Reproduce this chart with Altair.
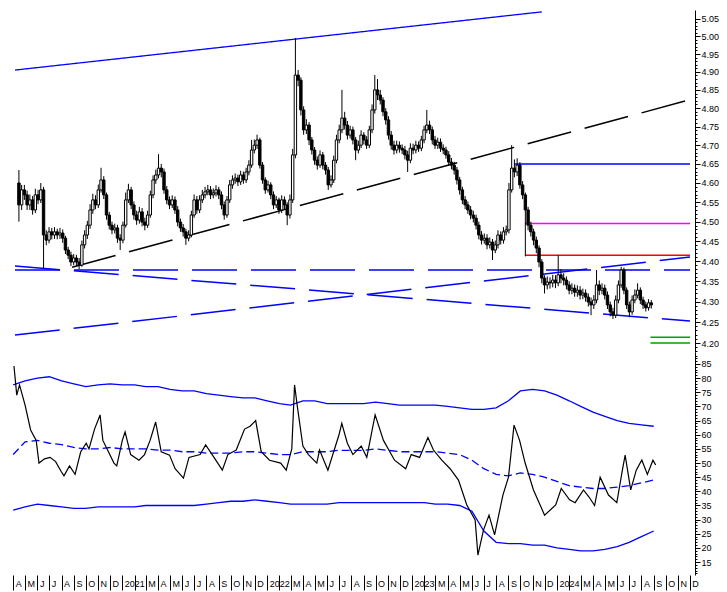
import altair as alt
import pandas as pd

# ---------------- data (weekly candles) ----------------
start_week = "2020-04-03"
first_open = 4.600
closes = [4.543, 4.582, 4.569, 4.543, 4.556, 4.530, 4.569, 4.556, 4.582, 4.466,
 4.453, 4.474, 4.466, 4.474, 4.466, 4.471, 4.458, 4.428, 4.415, 4.398,
 4.408, 4.398, 4.390, 4.441, 4.466, 4.491, 4.530, 4.556, 4.543, 4.582,
 4.608, 4.569, 4.517, 4.491, 4.479, 4.484, 4.458, 4.453, 4.491, 4.556,
 4.582, 4.543, 4.517, 4.504, 4.525, 4.499, 4.491, 4.517, 4.569, 4.608,
 4.621, 4.639, 4.629, 4.582, 4.556, 4.543, 4.556, 4.530, 4.499, 4.484,
 4.474, 4.458, 4.466, 4.517, 4.556, 4.530, 4.556, 4.569, 4.577, 4.582,
 4.569, 4.574, 4.582, 4.569, 4.543, 4.517, 4.556, 4.595, 4.608, 4.613,
 4.603, 4.621, 4.608, 4.629, 4.647, 4.687, 4.700, 4.714, 4.647, 4.608,
 4.582, 4.595, 4.569, 4.543, 4.556, 4.530, 4.556, 4.543, 4.517, 4.556,
 4.674, 4.891, 4.877, 4.795, 4.741, 4.754, 4.714, 4.687, 4.660, 4.647,
 4.674, 4.647, 4.634, 4.595, 4.608, 4.660, 4.714, 4.741, 4.773, 4.754,
 4.727, 4.741, 4.714, 4.687, 4.700, 4.727, 4.714, 4.700, 4.741, 4.795,
 4.850, 4.836, 4.822, 4.790, 4.768, 4.727, 4.700, 4.687, 4.700, 4.692,
 4.687, 4.674, 4.660, 4.692, 4.687, 4.700, 4.692, 4.714, 4.741, 4.754,
 4.741, 4.714, 4.700, 4.708, 4.692, 4.687, 4.674, 4.655, 4.647, 4.634,
 4.608, 4.582, 4.556, 4.543, 4.530, 4.517, 4.509, 4.491, 4.466, 4.453,
 4.458, 4.441, 4.448, 4.428, 4.441, 4.466, 4.453, 4.474, 4.479, 4.582,
 4.639, 4.629, 4.647, 4.595, 4.569, 4.530, 4.491, 4.474, 4.453, 4.433,
 4.398, 4.358, 4.341, 4.348, 4.346, 4.353, 4.346, 4.366, 4.358, 4.353,
 4.341, 4.328, 4.333, 4.323, 4.328, 4.316, 4.321, 4.311, 4.299, 4.292,
 4.304, 4.341, 4.328, 4.333, 4.316, 4.292, 4.275, 4.267, 4.304, 4.341,
 4.378, 4.328, 4.292, 4.275, 4.304, 4.316, 4.328, 4.304, 4.292, 4.285,
 4.297, 4.292]
highs = [4.634, 4.595, 4.595, 4.580, 4.570, 4.566, 4.585, 4.582, 4.600, 4.590,
 4.478, 4.486, 4.484, 4.486, 4.482, 4.484, 4.480, 4.464, 4.436, 4.424,
 4.418, 4.416, 4.408, 4.452, 4.478, 4.502, 4.545, 4.572, 4.568, 4.596,
 4.640, 4.618, 4.575, 4.525, 4.500, 4.495, 4.492, 4.468, 4.500, 4.575,
 4.598, 4.590, 4.552, 4.528, 4.538, 4.535, 4.510, 4.528, 4.580, 4.620,
 4.635, 4.676, 4.650, 4.638, 4.592, 4.565, 4.568, 4.565, 4.540, 4.508,
 4.494, 4.482, 4.478, 4.528, 4.570, 4.566, 4.568, 4.582, 4.590, 4.595,
 4.592, 4.586, 4.594, 4.590, 4.578, 4.552, 4.566, 4.608, 4.620, 4.625,
 4.622, 4.632, 4.630, 4.640, 4.660, 4.714, 4.715, 4.728, 4.720, 4.655,
 4.615, 4.606, 4.602, 4.578, 4.566, 4.562, 4.568, 4.565, 4.550, 4.570,
 4.690, 4.995, 4.905, 4.885, 4.805, 4.770, 4.762, 4.722, 4.695, 4.670,
 4.686, 4.682, 4.655, 4.642, 4.620, 4.672, 4.728, 4.755, 4.850, 4.790,
 4.765, 4.752, 4.750, 4.722, 4.712, 4.740, 4.735, 4.724, 4.752, 4.810,
 4.891, 4.880, 4.850, 4.830, 4.800, 4.778, 4.738, 4.712, 4.712, 4.710,
 4.702, 4.698, 4.685, 4.705, 4.704, 4.712, 4.710, 4.725, 4.752, 4.795,
 4.766, 4.750, 4.725, 4.720, 4.718, 4.702, 4.696, 4.684, 4.666, 4.656,
 4.642, 4.616, 4.590, 4.566, 4.552, 4.540, 4.528, 4.518, 4.500, 4.476,
 4.470, 4.468, 4.460, 4.456, 4.452, 4.478, 4.475, 4.486, 4.490, 4.600,
 4.700, 4.662, 4.665, 4.655, 4.605, 4.575, 4.538, 4.500, 4.482, 4.462,
 4.440, 4.405, 4.365, 4.362, 4.360, 4.366, 4.365, 4.415, 4.380, 4.370,
 4.362, 4.350, 4.345, 4.342, 4.340, 4.338, 4.332, 4.330, 4.320, 4.310,
 4.316, 4.378, 4.352, 4.345, 4.342, 4.325, 4.300, 4.285, 4.315, 4.352,
 4.386, 4.384, 4.335, 4.300, 4.315, 4.330, 4.345, 4.335, 4.312, 4.300,
 4.306, 4.304]
lows = [4.500, 4.530, 4.556, 4.530, 4.530, 4.518, 4.522, 4.545, 4.548, 4.380,
 4.440, 4.445, 4.455, 4.456, 4.455, 4.456, 4.446, 4.418, 4.405, 4.388,
 4.390, 4.388, 4.380, 4.386, 4.432, 4.456, 4.482, 4.520, 4.532, 4.535,
 4.575, 4.558, 4.505, 4.480, 4.468, 4.470, 4.446, 4.428, 4.445, 4.485,
 4.548, 4.532, 4.505, 4.492, 4.495, 4.488, 4.478, 4.484, 4.510, 4.560,
 4.598, 4.612, 4.615, 4.572, 4.545, 4.532, 4.535, 4.520, 4.488, 4.474,
 4.462, 4.441, 4.450, 4.460, 4.510, 4.520, 4.522, 4.548, 4.560, 4.568,
 4.558, 4.560, 4.565, 4.558, 4.532, 4.505, 4.510, 4.548, 4.585, 4.598,
 4.592, 4.595, 4.598, 4.600, 4.620, 4.640, 4.678, 4.690, 4.638, 4.598,
 4.572, 4.575, 4.558, 4.532, 4.535, 4.520, 4.522, 4.532, 4.491, 4.508,
 4.548, 4.665, 4.860, 4.780, 4.728, 4.730, 4.700, 4.675, 4.648, 4.635,
 4.640, 4.636, 4.622, 4.582, 4.588, 4.600, 4.652, 4.705, 4.732, 4.742,
 4.715, 4.718, 4.702, 4.660, 4.678, 4.692, 4.702, 4.690, 4.692, 4.732,
 4.785, 4.822, 4.810, 4.778, 4.755, 4.715, 4.688, 4.675, 4.678, 4.680,
 4.676, 4.662, 4.629, 4.652, 4.676, 4.678, 4.682, 4.684, 4.705, 4.732,
 4.730, 4.702, 4.690, 4.690, 4.682, 4.676, 4.664, 4.645, 4.636, 4.622,
 4.596, 4.570, 4.545, 4.532, 4.520, 4.506, 4.498, 4.480, 4.455, 4.442,
 4.444, 4.430, 4.432, 4.403, 4.420, 4.432, 4.442, 4.444, 4.465, 4.470,
 4.575, 4.615, 4.618, 4.585, 4.558, 4.412, 4.478, 4.462, 4.440, 4.420,
 4.385, 4.345, 4.320, 4.330, 4.332, 4.335, 4.333, 4.338, 4.345, 4.340,
 4.330, 4.318, 4.318, 4.312, 4.312, 4.305, 4.306, 4.300, 4.288, 4.267,
 4.282, 4.296, 4.316, 4.318, 4.305, 4.282, 4.264, 4.258, 4.260, 4.296,
 4.334, 4.318, 4.282, 4.262, 4.268, 4.296, 4.308, 4.294, 4.282, 4.276,
 4.278, 4.283]

# RSI line (week index, value)
rsi_week = [0, 1, 2, 4, 6, 8, 9, 11, 13, 15, 17, 18, 20, 22, 24, 26, 27, 29, 31, 32,
 34, 36, 37, 39, 40, 42, 45, 47, 49, 51, 53, 56, 58, 61, 63, 67, 69, 72, 75, 77,
 80, 83, 85, 87, 89, 92, 96, 98, 100, 101, 102, 104, 106, 109, 110, 113, 117, 118, 120, 122,
 125, 127, 130, 133, 137, 141, 143, 146, 149, 151, 154, 157, 160, 163, 166, 167, 169, 171, 173, 176,
 178, 180, 182, 184, 187, 191, 195, 197, 200, 202, 205, 207, 209, 211, 214, 217, 219, 220, 222, 224,
 226, 228, 230, 231]
rsi_value = [84.3, 74, 77.6, 70.5, 61.7, 58, 50, 51.5, 52, 50.5, 47, 45.5, 49, 46, 53.9, 57, 55, 62, 67, 58,
 54, 50, 49, 58, 61, 53, 51, 53, 58, 64.5, 54, 52.8, 48, 44.7, 52, 53, 56.4, 52, 47.5, 53,
 54.6, 62, 63, 65, 54, 51, 50, 47.5, 55, 77.6, 70, 56, 53, 50, 54.6, 47.5, 60, 64, 57, 53,
 56, 52, 67, 58, 51, 48, 53, 52, 59, 54.6, 51, 48, 44, 35.2, 29.9, 17.5, 26.3, 31.6, 24.6, 38.7,
 45, 63.4, 58, 50, 40.5, 31.6, 35.2, 41, 37, 36, 40.5, 38, 35, 45, 38.7, 36, 47.5, 52.8, 40.5, 47.5,
 51.1, 46, 51, 49.3]

# RSI bands, one value per month starting April 2020
band_start = "2020-04-01"
band_upper = [77.6, 79, 80, 80.5, 79, 78, 77, 77.6, 78, 77.6, 77.6, 77, 77, 76, 75.5, 75.5, 74.5, 74, 73.5, 73,
 73, 72, 71, 70.5, 72, 72, 71, 71, 71, 71, 71.5, 71, 70.5, 70.5, 70.5, 70.5, 70, 69.5, 69, 69,
 69.5, 72, 75.5, 76, 75.5, 74, 72, 70, 68, 66.5, 65, 64, 63.5, 63]
band_mid = [53, 57.5, 58, 57, 56.5, 55.5, 55, 55, 55.5, 55, 55, 55, 54.6, 54.6, 54, 54, 53.5, 53.5, 53.5, 54,
 54, 53.5, 53, 53, 54, 54, 54, 54.5, 54.5, 54.5, 55, 54.5, 54, 54, 54, 54, 53.5, 53, 51, 48,
 46, 45.5, 46.5, 46, 45, 43.5, 42, 41.5, 41, 41, 41.5, 42, 43, 44]
band_lower = [33.4, 34.5, 35.5, 35, 34.5, 34, 34, 34.5, 34.5, 34.5, 34.5, 35, 35, 35, 35, 35, 35.5, 36, 36.5, 36.5,
 37, 36.5, 36, 35.5, 35.5, 35.5, 35.5, 36, 36, 36, 36, 36, 36, 36, 36, 35.5, 35.5, 35, 33, 26,
 22, 21.5, 21.5, 21, 21, 20, 19.5, 19, 19, 19.5, 20.5, 22, 24, 26]

# Trendlines (start date, start price, end date, end price)
trend_x1 = ["2020-03-24", "2020-08-17", "2020-03-24", "2020-03-24", "2020-03-24"]
trend_y1 = [4.905, 4.385, 4.378, 4.388, 4.219]
trend_x2 = ["2023-12-01", "2024-12-14", "2024-12-14", "2024-12-14", "2024-12-14"]
trend_y2 = [5.070, 4.823, 4.378, 4.2526, 4.4102]
trend_style = ["blue_solid", "black_dash", "blue_dash", "blue_dash", "blue_dash"]

# Horizontal levels
level_value = [4.650, 4.495, 4.415, 4.214, 4.200]
level_start = ["2023-09-22", "2023-10-19", "2023-10-19", "2024-09-04", "2024-09-04"]
level_end = ["2024-12-14"] * 5
level_color = ["#0000ff", "#ff00ff", "#ff0000", "#00a000", "#00a000"]

price_ticks = [round(4.18 + 0.01 * k, 2) for k in range(88)]
rsi_ticks = list(range(11, 89))

# ---------------- tables ----------------
n = len(closes)
dates = pd.date_range(start_week, periods=n, freq="7D")
candles = pd.DataFrame({
    "date": dates,
    "open": [first_open] + closes[:-1],
    "close": closes,
    "high": highs,
    "low": lows,
})
candles["up"] = candles["close"] >= candles["open"]

rsi_df = pd.DataFrame({
    "date": [pd.Timestamp(start_week) + pd.Timedelta(days=7 * w) for w in rsi_week],
    "rsi": rsi_value,
})
band_dates = pd.date_range(band_start, periods=len(band_upper), freq="MS")
bands = pd.DataFrame({"date": band_dates, "upper": band_upper, "mid": band_mid, "lower": band_lower})

trends = pd.DataFrame({"x1": pd.to_datetime(trend_x1), "y1": trend_y1,
                       "x2": pd.to_datetime(trend_x2), "y2": trend_y2, "style": trend_style})
levels = pd.DataFrame({"x1": pd.to_datetime(level_start), "x2": pd.to_datetime(level_end),
                       "y": level_value, "color": level_color})

# ---------------- scales / axes ----------------
FONT = "Liberation Sans Narrow, Liberation Sans, sans-serif"
xscale = alt.Scale(domain=[alt.DateTime(year=2020, month=3, date=24),
                           alt.DateTime(year=2024, month=12, date=14)])
price_scale = alt.Scale(type="log", domain=[4.1786, 5.0754], nice=False, zero=False)
rsi_scale = alt.Scale(domain=[10.44, 89.24], nice=False, zero=False)

is_major_p = "abs(datum.value*20 - round(datum.value*20)) < 0.001"
price_axis = alt.Axis(
    orient="right", values=price_ticks, title=None, grid=False,
    labelExpr=f"{is_major_p} ? format(datum.value, '.2f') : ''",
    tickSize={"condition": {"test": is_major_p, "value": 5}, "value": 2},
    labelOverlap=False, labelFlush=False, labelPadding=1,
    domainColor="black", tickColor="black", labelColor="black",
    labelFont=FONT, labelFontSize=9)
is_major_r = "datum.value % 5 == 0"
rsi_axis = alt.Axis(
    orient="right", values=rsi_ticks, title=None, grid=False,
    labelExpr=f"({is_major_r}) && datum.value >= 15 && datum.value <= 85 ? format(datum.value, 'd') : ''",
    tickSize={"condition": {"test": is_major_r, "value": 5}, "value": 2},
    labelOverlap=False, labelFlush=False, labelPadding=1,
    domainColor="black", tickColor="black", labelColor="black",
    labelFont=FONT, labelFontSize=9)
x_axis = alt.Axis(
    tickCount={"interval": "month", "step": 1}, title=None, grid=False, domain=False,
    labelExpr="month(datum.value) == 0 ? timeFormat(datum.value, '%Y') : "
              "(month(datum.value) == 1 ? '' : substring(timeFormat(datum.value, '%b'), 0, 1))",
    tickSize=15, tickColor="black", labelAlign="left", labelBaseline="top",
    labelPadding=-11, labelOffset=2, labelOverlap=False, labelFlush=False,
    labelColor="black", labelFont=FONT, labelFontSize=9)

xp = alt.X("date:T", scale=xscale, axis=None)

def py(field):
    return alt.Y(f"{field}:Q", scale=price_scale, axis=price_axis)

# ---------------- price panel ----------------
base_c = alt.Chart(candles)
wicks = base_c.mark_rule(color="black", strokeWidth=1).encode(x=xp, y=py("low"), y2="high")
bodies = base_c.mark_bar(size=2.4, stroke="black", strokeWidth=1).encode(
    x=xp, y=py("open"), y2="close",
    fill=alt.condition(alt.datum.up, alt.value("white"), alt.value("black")))

def trend_layer(style, color, dash, width):
    return alt.Chart(trends[trends["style"] == style]).mark_rule(
        color=color, strokeDash=dash, strokeWidth=width).encode(
        x=alt.X("x1:T", scale=xscale, axis=None), x2="x2:T", y=py("y1"), y2="y2")

top_line = trend_layer("blue_solid", "#0000ff", [1, 0], 1.3)
black_dash = trend_layer("black_dash", "black", [45, 14], 1.5)
blue_dash = trend_layer("blue_dash", "#0000ff", [45, 14], 1.5)

level_rules = alt.Chart(levels).mark_rule(strokeWidth=1.5).encode(
    x=alt.X("x1:T", scale=xscale, axis=None), x2="x2:T", y=py("y"),
    color=alt.Color("color:N", scale=None))

price_chart = alt.layer(top_line, black_dash, blue_dash, level_rules, wicks, bodies).properties(
    width=685, height=342)

# ---------------- RSI panel ----------------
xr = alt.X("date:T", scale=xscale, axis=x_axis)

def ry(field):
    return alt.Y(f"{field}:Q", scale=rsi_scale, axis=rsi_axis)

bchart = alt.Chart(bands)
upper = bchart.mark_line(color="#0000ff", strokeWidth=1.3).encode(x=xr, y=ry("upper"))
lower = bchart.mark_line(color="#0000ff", strokeWidth=1.3).encode(x=xr, y=ry("lower"))
mid = bchart.mark_line(color="#0000ff", strokeWidth=1.3, strokeDash=[8, 4]).encode(x=xr, y=ry("mid"))
rsi_line = alt.Chart(rsi_df).mark_line(color="black", strokeWidth=1.2).encode(x=xr, y=ry("rsi"))

rsi_chart = alt.layer(upper, lower, mid, rsi_line).properties(width=685, height=223)

chart = alt.vconcat(price_chart, rsi_chart, spacing=0, bounds="flush").properties(
    padding={"left": 2, "top": 2, "right": 0, "bottom": 0}
).configure_view(strokeWidth=0)

chart.save("out.html", embed_options={"renderer": "svg", "actions": False})
